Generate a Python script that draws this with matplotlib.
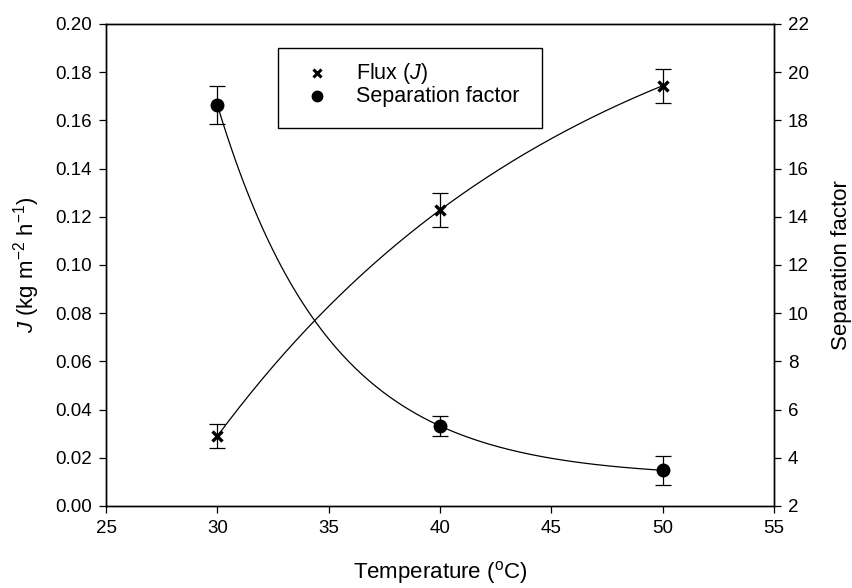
import numpy as np
import matplotlib
matplotlib.use("Agg")
import matplotlib.pyplot as plt
from matplotlib.patches import Rectangle

plt.rcParams["font.family"] = ["Liberation Sans", "DejaVu Sans"]
plt.rcParams["mathtext.fontset"] = "custom"
plt.rcParams["mathtext.rm"] = "Liberation Sans"
plt.rcParams["mathtext.it"] = "Liberation Sans:italic"

# data
temperature = [30, 40, 50]
flux = [0.029, 0.1228, 0.1744]
flux_err = [0.005, 0.007, 0.007]
sep_factor = [18.64, 5.32, 3.48]
sep_err = [0.8, 0.4, 0.6]

x_ticks = [25, 30, 35, 40, 45, 50, 55]
flux_ticks = [0.00, 0.02, 0.04, 0.06, 0.08, 0.10, 0.12, 0.14, 0.16, 0.18, 0.20]
sep_ticks = [2, 4, 6, 8, 10, 12, 14, 16, 18, 20, 22]


def exp_fit(x, y, xs):
    # three-point exponential curve through the equally spaced points
    d1 = y[1] - y[0]
    d2 = y[2] - y[1]
    r = d2 / d1
    a = d1 / (1 - r)
    step = x[1] - x[0]
    return y[0] + a * (1 - r ** ((xs - x[0]) / step))


xs = np.linspace(temperature[0], temperature[-1], 200)

fig = plt.figure(figsize=(8.53, 5.88), dpi=100)
ax = fig.add_axes([0.1243, 0.1395, 0.7831, 0.8197])
ax2 = ax.twinx()

ax.plot(xs, exp_fit(temperature, flux, xs), color="black", lw=0.9)
ax.errorbar(temperature, flux, yerr=flux_err, fmt="none", ecolor="black",
            elinewidth=0.9, capsize=5.5, capthick=0.9)
ax.plot(temperature, flux, "x", color="black", ms=7.5, mew=2.4)

ax2.plot(xs, exp_fit(temperature, sep_factor, xs), color="black", lw=0.9)
ax2.errorbar(temperature, sep_factor, yerr=sep_err, fmt="none", ecolor="black",
             elinewidth=0.9, capsize=5.5, capthick=0.9)
ax2.plot(temperature, sep_factor, "o", color="black", ms=9)

ax.set_xlim(25, 55)
ax.set_ylim(0, 0.20)
ax2.set_ylim(2, 22)
ax.set_xticks(x_ticks)
ax.set_yticks(flux_ticks)
ax.set_yticklabels([f"{v:.2f}" for v in flux_ticks])
ax2.set_yticks(sep_ticks)

for a in (ax, ax2):
    a.tick_params(direction="out", length=5, width=0.9, labelsize=13.5, pad=5)
    for s in a.spines.values():
        s.set_linewidth(1.0)

ax.set_xlabel("Temperature ($\\mathrm{^{o}}$C)", fontsize=16, labelpad=16)
ax.set_ylabel("$J$ (kg m$^{-2}$ h$^{-1}$)", fontsize=16, labelpad=10)
ax2.set_ylabel("Separation factor", fontsize=16, labelpad=16)

# legend box drawn by hand to match the original layout
ax2.add_patch(Rectangle((0.2575, 0.7842), 0.3952, 0.166, transform=ax2.transAxes,
                        fill=True, facecolor="white", edgecolor="black", lw=1.0,
                        clip_on=False, zorder=5))
ax2.plot([0.3159], [0.8973], "x", color="black", ms=6, mew=2.2,
         transform=ax2.transAxes, clip_on=False, zorder=6)
ax2.plot([0.3159], [0.8496], "o", color="black", ms=7.5,
         transform=ax2.transAxes, clip_on=False, zorder=6)
ax2.text(0.3743, 0.8973, "Flux ($J$)", fontsize=15.5, va="center", ha="left",
         transform=ax2.transAxes, zorder=6)
ax2.text(0.3743, 0.8496, "Separation factor", fontsize=15.5, va="center",
         ha="left", transform=ax2.transAxes, zorder=6)

fig.savefig("out.png", dpi=100)
